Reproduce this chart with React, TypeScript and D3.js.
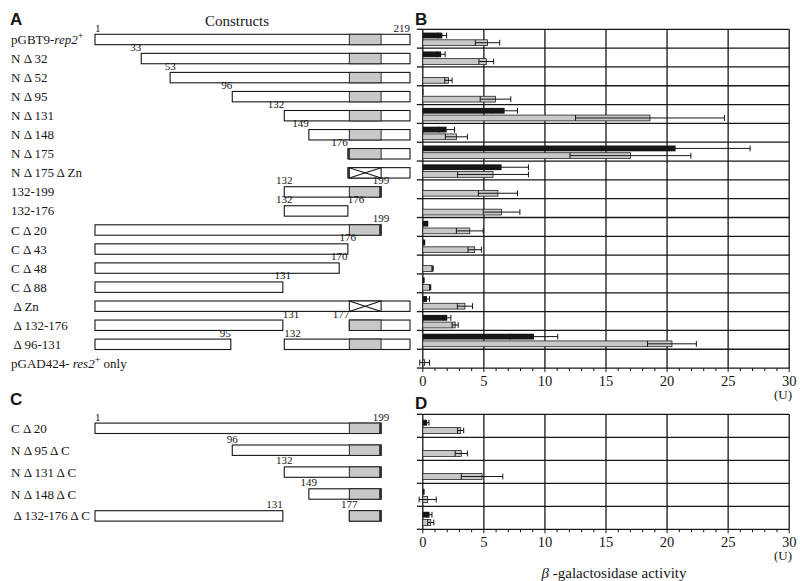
import React from 'react';
import * as d3 from 'd3';

// ---------- Data ----------
const labelsA = [
  'pGBT9-_rep2_^+', 'N Δ 32', 'N Δ 52', 'N Δ 95', 'N Δ 131', 'N Δ 148', 'N Δ 175', 'N Δ 175 Δ Zn',
  '132-199', '132-176', 'C Δ 20', 'C Δ 43', 'C Δ 48', 'C Δ 88', ' Δ Zn', ' Δ 132-176', ' Δ 96-131',
  'pGAD424- _res2_^+ only',
];
// construct segments (residue ranges) per row
const segmentsA: [number, number][][] = [
  [[1, 219]], [[33, 219]], [[53, 219]], [[96, 219]], [[132, 219]], [[149, 219]], [[176, 219]], [[176, 219]],
  [[132, 199]], [[132, 176]], [[1, 199]], [[1, 176]], [[1, 170]], [[1, 131]], [[1, 219]],
  [[1, 131], [177, 219]], [[1, 95], [132, 219]], [],
];
const znA: (string | null)[] = [
  'box', 'box', 'box', 'box', 'box', 'box', 'box', 'cross', 'box', null, 'box', null, null, null, 'cross', 'box', 'box', null,
];
// residue number annotations: [row, residue, anchor]
const annA: [number, number, string][] = [
  [0, 1, 'start'], [0, 219, 'end'], [1, 33, 'end'], [2, 53, 'middle'], [3, 96, 'end'], [4, 132, 'end'],
  [5, 149, 'end'], [6, 176, 'end'], [8, 132, 'middle'], [8, 199, 'middle'], [9, 132, 'middle'], [9, 176, 'start'],
  [10, 199, 'middle'], [11, 176, 'middle'], [12, 170, 'middle'], [13, 131, 'middle'], [15, 131, 'start'],
  [15, 177, 'end'], [16, 95, 'end'], [16, 132, 'start'],
];

const labelsC = ['C Δ 20', 'N Δ 95 Δ C', 'N Δ 131 Δ C', 'N Δ 148 Δ C', ' Δ 132-176 Δ C'];
const segmentsC: [number, number][][] = [[[1, 199]], [[96, 199]], [[132, 199]], [[149, 199]], [[1, 131], [177, 199]]];
const znC: (string | null)[] = ['box', 'box', 'box', 'box', 'box'];
const annC: [number, number, string][] = [
  [0, 1, 'start'], [0, 199, 'middle'], [1, 96, 'middle'], [2, 132, 'middle'], [3, 149, 'middle'],
  [4, 131, 'end'], [4, 177, 'middle'],
];
const znRange: [number, number] = [177, 199];

// β-galactosidase activity (U)
const blackMeanB = [1.6, 1.5, 0, 0.05, 6.7, 1.95, 20.7, 6.45, 0, 0, 0.45, 0.2, 0, 0.15, 0.35, 2.0, 9.1, 0];
const blackErrB = [0.35, 0.33, 0, 0, 1.05, 0.65, 6.1, 2.2, 0, 0, 0, 0, 0, 0, 0.2, 0.3, 1.95, 0];
const grayMeanB = [5.3, 5.2, 2.1, 5.95, 18.6, 2.75, 17.0, 5.75, 6.15, 6.45, 3.85, 4.25, 0.8, 0.6, 3.45, 2.65, 20.4, 0.15];
const grayErrB = [1.0, 0.6, 0.3, 1.25, 6.1, 0.9, 4.95, 2.9, 1.6, 1.5, 1.1, 0.55, 0.05, 0.05, 0.62, 0.25, 2.0, 0.4];

const blackMeanD = [0.35, 0, 0, 0.15, 0.55];
const blackErrD = [0.15, 0, 0, 0, 0.2];
const grayMeanD = [3.1, 3.15, 4.85, 0.4, 0.65];
const grayErrD = [0.25, 0.5, 1.7, 0.7, 0.25];

const xTicks = [0, 5, 10, 15, 20, 25, 30];

// ---------- Layout ----------
const W = 800, H = 581;
const SERIF = '"Liberation Serif", "DejaVu Serif", serif';
const SANS = '"Liberation Sans", Arial, sans-serif';
const INK = '#161616';
const GRAY = '#c8c8c8';

const xB = d3.scaleLinear().domain([0, 30]).range([422.8, 789.2]);
const pos = d3.scaleLinear().domain([1, 219]).range([95, 410]);

function rich(s: string) {
  const parts = s.split(/(_[^_]+_|\^\+)/).filter((p) => p !== '');
  let raised = false;
  return parts.map((p, i) => {
    if (p === '^+') {
      raised = true;
      return <tspan key={i} dy={-5} fontSize={10}>+</tspan>;
    }
    const dy = raised ? 5 : 0;
    raised = false;
    if (p.startsWith('_')) return <tspan key={i} dy={dy} fontStyle="italic">{p.slice(1, -1)}</tspan>;
    return <tspan key={i} dy={dy}>{p}</tspan>;
  });
}

function Constructs({ labels, segments, zn, ann, center }: any) {
  const bh = 10.4;
  return (
    <g>
      {labels.map((l: string, i: number) => (
        <text key={'l' + i} x={11} y={center(i) + 4.5} fontFamily={SERIF} fontSize={13} fill={INK} xmlSpace="preserve">
          {rich(l)}
        </text>
      ))}
      {segments.map((segs: [number, number][], i: number) => {
        const y = center(i) - bh / 2;
        return (
          <g key={'s' + i}>
            {segs.map(([a, b], j) => {
              const x0 = pos(a), x1 = pos(b);
              const z = zn[i];
              const hasZn = z && a <= znRange[0] && b >= znRange[1];
              const zx0 = pos(znRange[0]), zx1 = pos(znRange[1]);
              return (
                <g key={j}>
                  <rect x={x0} y={y} width={x1 - x0} height={bh} fill="#fff" stroke={INK} strokeWidth={1.1} />
                  {hasZn && z === 'box' && (
                    <rect x={zx0} y={y} width={zx1 - zx0} height={bh} fill={GRAY} stroke={INK} strokeWidth={0.9} />
                  )}
                  {hasZn && z === 'cross' && (
                    <g>
                      <rect x={zx0} y={y} width={zx1 - zx0} height={bh} fill="#fff" stroke={INK} strokeWidth={1.1} />
                      <line x1={zx0} y1={y} x2={zx1} y2={y + bh} stroke={INK} strokeWidth={1.1} />
                      <line x1={zx0} y1={y + bh} x2={zx1} y2={y} stroke={INK} strokeWidth={1.1} />
                    </g>
                  )}
                  {a === 176 && <rect x={x0} y={y} width={pos(177) - x0} height={bh} fill="#333" />}
                  {b === 199 && <rect x={x1 - 2} y={y} width={2} height={bh} fill="#333" />}
                </g>
              );
            })}
          </g>
        );
      })}
      {ann.map(([r, res, anchor]: [number, number, string], k: number) => (
        <text key={'a' + k} x={pos(res)} y={center(r) - bh / 2 - 2.5} textAnchor={anchor}
          fontFamily={SERIF} fontSize={11} fill={INK}>{res}</text>
      ))}
    </g>
  );
}

function Bars({ top, rowH, n, bm, be, gm, ge, blackOff, grayOff, barH }: any) {
  const bottom = top + rowH * n;
  const x0 = xB(0);
  const rows = d3.range(n + 1);
  const minor = d3.range(0, 31);
  const errBar = (m: number, e: number, y: number, key: string) =>
    e > 0 ? (
      <g key={key} stroke={INK} strokeWidth={1}>
        <line x1={xB(m - e)} x2={xB(m + e)} y1={y + barH / 2} y2={y + barH / 2} />
        <line x1={xB(m - e)} x2={xB(m - e)} y1={y} y2={y + barH} />
        <line x1={xB(m + e)} x2={xB(m + e)} y1={y} y2={y + barH} />
      </g>
    ) : null;
  return (
    <g>
      {rows.map((i) => (
        <g key={'h' + i}>
          <line x1={x0} x2={xB(30)} y1={top + i * rowH} y2={top + i * rowH} stroke={INK} strokeWidth={1.3} />
          <line x1={x0 - 6} x2={x0} y1={top + i * rowH} y2={top + i * rowH} stroke={INK} strokeWidth={1.3} />
        </g>
      ))}
      {xTicks.map((t) => (
        <line key={'v' + t} x1={xB(t)} x2={xB(t)} y1={top} y2={bottom} stroke={INK} strokeWidth={1.3} />
      ))}
      {minor.map((t) => (
        <line key={'m' + t} x1={xB(t)} x2={xB(t)} y1={bottom} y2={bottom + (t % 5 === 0 ? 4 : 3)} stroke={INK} strokeWidth={1} />
      ))}
      {xTicks.map((t) => (
        <text key={'t' + t} x={xB(t)} y={bottom + 18} textAnchor="middle" fontFamily={SERIF} fontSize={14.5} fill={INK}>{t}</text>
      ))}
      <text x={792} y={bottom + 31} textAnchor="end" fontFamily={SERIF} fontSize={13} fill={INK}>(U)</text>
      {d3.range(n).map((i) => {
        const yb = top + i * rowH + blackOff;
        const yg = top + i * rowH + grayOff;
        return (
          <g key={'b' + i}>
            {gm[i] > 0 && (
              <rect x={x0} y={yg} width={xB(gm[i]) - x0} height={barH} fill={GRAY} stroke="#222" strokeWidth={0.8} />
            )}
            {errBar(gm[i], ge[i], yg, 'ge')}
            {bm[i] > 0 && <rect x={x0} y={yb} width={xB(bm[i]) - x0} height={barH} fill={INK} />}
            {errBar(bm[i], be[i], yb, 'be')}
          </g>
        );
      })}
    </g>
  );
}

export default function App() {
  return (
    <div style={{ position: 'absolute', left: 0, top: 0 }}>
      <svg width={W} height={H} viewBox={`0 0 ${W} ${H}`} style={{ display: 'block', background: '#fff' }}>
        <rect width={W} height={H} fill="#fff" />
        <text x={10} y={25} fontFamily={SANS} fontWeight="bold" fontSize={17} fill={INK}>A</text>
        <text x={415} y={25} fontFamily={SANS} fontWeight="bold" fontSize={17} fill={INK}>B</text>
        <text x={10} y={405} fontFamily={SANS} fontWeight="bold" fontSize={17} fill={INK}>C</text>
        <text x={415} y={409} fontFamily={SANS} fontWeight="bold" fontSize={17} fill={INK}>D</text>
        <text x={237} y={26} textAnchor="middle" fontFamily={SERIF} fontSize={15} fill={INK}>Constructs</text>

        <Constructs labels={labelsA} segments={segmentsA} zn={znA} ann={annA} center={(i: number) => 39.5 + i * 19.05} />
        <Constructs labels={labelsC} segments={segmentsC} zn={znC} ann={annC} center={(i: number) => 428.3 + i * 21.9} />

        <Bars top={29.3} rowH={18.82} n={18} bm={blackMeanB} be={blackErrB} gm={grayMeanB} ge={grayErrB}
          blackOff={3.3} grayOff={10.5} barH={5.8} />
        <Bars top={414.3} rowH={23} n={5} bm={blackMeanD} be={blackErrD} gm={grayMeanD} ge={grayErrD}
          blackOff={5.5} grayOff={13.3} barH={5.8} />

        <text x={614} y={578} textAnchor="middle" fontFamily={SERIF} fontSize={15} fill={INK}>
          <tspan fontStyle="italic">β</tspan> -galactosidase activity
        </text>
      </svg>
    </div>
  );
}
